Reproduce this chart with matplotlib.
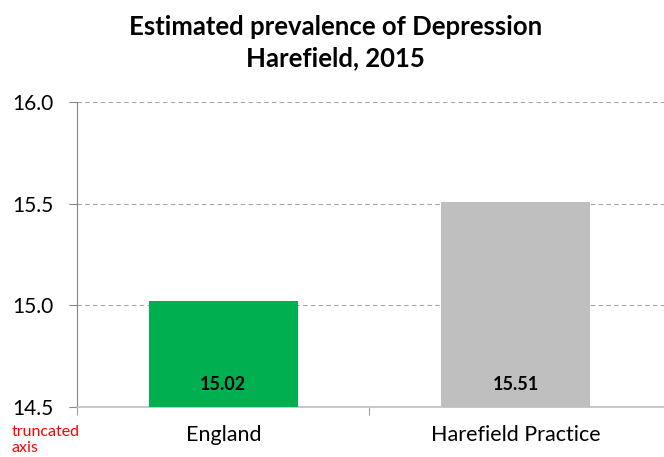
import matplotlib.pyplot as plt
from matplotlib.ticker import FixedLocator

plt.rcParams['font.family'] = ['Lato', 'DejaVu Sans']

# Depression prevalence (%) for England and the practice
areas = ['England', 'Harefield Practice']
prevalence = [15.02, 15.51]
bar_colors = ['#00B050', '#BFBFBF']
y_ticks = [14.5, 15.0, 15.5, 16.0]

fig = plt.figure(figsize=(6.64, 4.57), dpi=100)
ax = fig.add_axes([0.116, 0.1094, 0.884, 0.6674])

x = list(range(len(areas)))
base = y_ticks[0]
ax.bar(x, [v - base for v in prevalence], bottom=base, width=0.51,
       color=bar_colors, zorder=3)

for xi, v in zip(x, prevalence):
    ax.annotate(f'{v:.2f}', (xi, base), xytext=(0, 16), textcoords='offset points',
                ha='center', va='center', fontsize=13, fontweight='bold', zorder=4)

ax.set_ylim(y_ticks[0], y_ticks[-1])
ax.set_xlim(-0.5, 1.507)
ax.set_yticks(y_ticks)
ax.set_yticklabels([f'{t:.1f}' for t in y_ticks], fontsize=15)
ax.set_xticks(x)
ax.set_xticklabels(areas, fontsize=15.5)
ax.tick_params(axis='x', length=0, pad=13)
ax.tick_params(axis='y', length=6, color='#868686', pad=11)
ax.xaxis.set_minor_locator(FixedLocator([-0.5, 0.5]))
ax.tick_params(axis='x', which='minor', length=6, color='#868686')

ax.grid(axis='y', linestyle=(0, (4, 3)), color='#A6A6A6', linewidth=0.8, zorder=0)
for side in ['top', 'right']:
    ax.spines[side].set_visible(False)
ax.spines['left'].set_color('#868686')
ax.spines['bottom'].set_color('#BFBFBF')
ax.spines['bottom'].set_linewidth(1.2)

fig.text(0.505, 0.907, 'Estimated prevalence of Depression\nHarefield, 2015',
         ha='center', va='center', fontsize=18.5, fontweight='bold', linespacing=1.35)
fig.text(0.018, 0.004, 'truncated\naxis', color='#FF0000', fontsize=11.5,
         ha='left', va='bottom', linespacing=1.2)

fig.savefig('out.png', dpi=100)
